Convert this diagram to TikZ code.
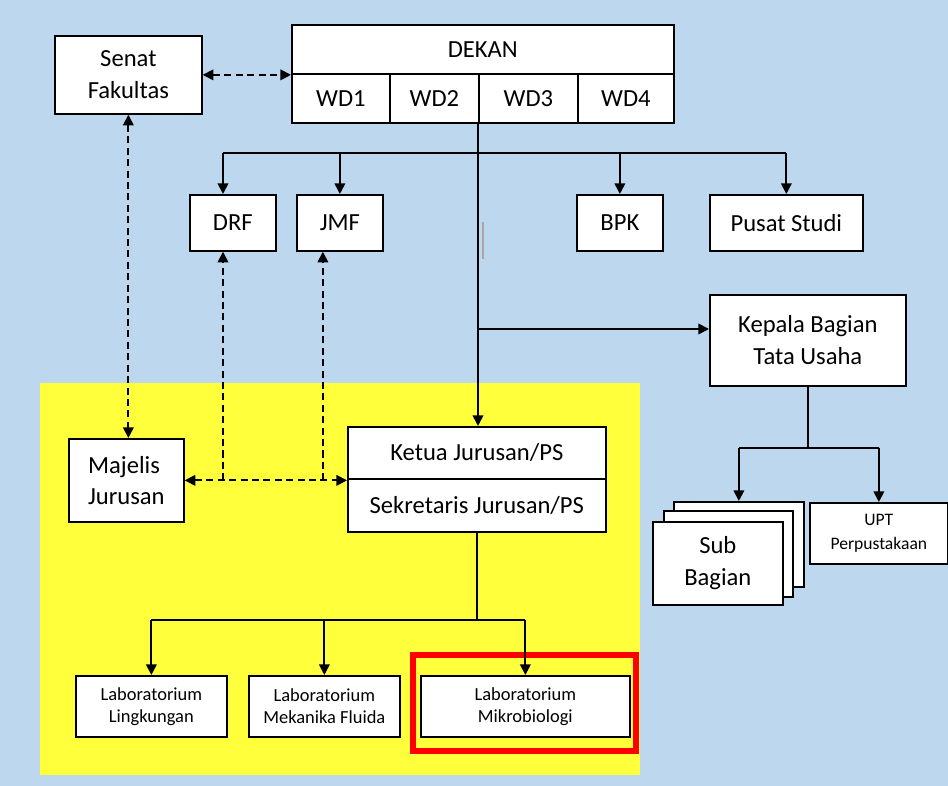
\documentclass[tikz,border=0pt]{standalone}
\usepackage{fontspec}
\setmainfont{Carlito}
\usepackage{xcolor}
\usetikzlibrary{positioning,calc,arrows.meta}

\definecolor{bgblue}{HTML}{BDD7EE}
\definecolor{labyellow}{HTML}{FFFF3C}

\begin{document}
\begin{tikzpicture}[x=0.02cm, y=-0.02cm, line width=1pt,
    >={Triangle[length=6pt,width=6pt]},
    org box/.style={draw, fill=white, anchor=north west, align=center, inner sep=2pt, font=\fontsize{14}{18}\selectfont},
    lab box/.style={org box, font=\fontsize{10.5}{12.5}\selectfont},
    dash line/.style={dash pattern=on 4pt off 2.5pt}]
    % Background and department area
    \fill[bgblue] (0,0) rectangle (948,786);
    \useasboundingbox (0,0) rectangle (948,786);
    \fill[labyellow] (40,383) rectangle (640,775);

    % Faculty level
    \node[org box, minimum width=2.94cm, minimum height=1.56cm] (senat) at (54,35) {Senat\\Fakultas};
    \node[org box, minimum width=7.64cm, minimum height=0.98cm] (dekan) at (291,24) {DEKAN};
    \foreach \i/\x/\w in {1/291/1.96, 2/389/1.78, 3/478/1.98, 4/577/1.92}
        \node[org box, minimum width=\w cm, minimum height=0.98cm] (wd\i) at (\x,73) {WD\i};

    \node[org box, minimum width=1.72cm, minimum height=1.12cm] (drf) at (189,194) {DRF};
    \node[org box, minimum width=1.72cm, minimum height=1.12cm] (jmf) at (296,194) {JMF};
    \node[org box, minimum width=1.72cm, minimum height=1.12cm] (bpk) at (576,194) {BPK};
    \node[org box, minimum width=3.06cm, minimum height=1.12cm] (pusat) at (709,194) {Pusat Studi};

    % Administration
    \node[org box, minimum width=3.92cm, minimum height=1.82cm] (kabag) at (709,294) {Kepala Bagian\\Tata Usaha};
    \node[org box, minimum width=2.6cm, minimum height=1.7cm] (subC) at (673,501) {};
    \node[org box, minimum width=2.58cm, minimum height=1.72cm] (subB) at (663,510) {};
    \node[org box, minimum width=2.6cm, minimum height=1.66cm] (subA) at (652,521) {Sub\\Bagian};
    \node[org box, minimum width=2.76cm, minimum height=1.22cm, font=\fontsize{10}{13.5}\selectfont] (upt) at (809,502) {UPT\\Perpustakaan};

    % Department (yellow area)
    \node[org box, align=left, minimum width=2.3cm, minimum height=1.66cm] (majelis) at (68,438) {Majelis\\Jurusan};
    \node[org box, minimum width=5.16cm, minimum height=1.04cm] (ketua) at (347,426) {Ketua Jurusan/PS};
    \node[org box, minimum width=5.16cm, minimum height=1.06cm] (sekretaris) at (347,478) {Sekretaris Jurusan/PS};

    \node[lab box, minimum width=3.02cm, minimum height=1.22cm] (lab1) at (75,675) {Laboratorium\\Lingkungan};
    \node[lab box, minimum width=3.02cm, minimum height=1.22cm] (lab2) at (248,675) {Laboratorium\\Mekanika Fluida};
    \node[lab box, minimum width=4.18cm, minimum height=1.22cm] (lab3) at (420,675) {Laboratorium\\Mikrobiologi};
    \draw[red, line width=3.4pt] (413,655) rectangle (636,751);

    % Lines of command
    \draw[->] (wd3.south west) -- (wd3.south west |- ketua.north);
    \coordinate (bus) at (223,153);
    \draw (bus) -- (bus -| pusat.north);
    \draw[->] (bus) -- (bus |- drf.north);
    \foreach \n in {jmf,bpk,pusat}
        \draw[->] (bus -| \n.north) -- (\n.north);

    \coordinate (tu) at (wd3.south west |- 0,329);
    \draw[->] (tu) -- (tu -| kabag.west);
    \draw (kabag.south) -- ++(0,61) coordinate (tubus);
    \draw (tubus -| subC.north) -- (tubus -| upt.north);
    \draw[->] (tubus -| subC.north) -- (subC.north);
    \draw[->] (tubus -| upt.north) -- (upt.north);

    \draw (sekretaris.south) -- ++(0,87) coordinate (labbus);
    \draw (labbus -| lab1.north) -- (labbus -| lab3.north);
    \foreach \n in {lab1,lab2,lab3}
        \draw[->] (labbus -| \n.north) -- (\n.north);

    % Lines of coordination (dashed)
    \draw[dash line, <->] (senat.east) -- (senat.east -| dekan.west);
    \draw[dash line, <->] (senat.south) -- (senat.south |- majelis.north);
    \draw[dash line, <->] (majelis.east) -- (majelis.east -| ketua.west);
    \draw[dash line, ->] (bus |- majelis.east) -- (bus |- drf.south);
    \coordinate (jmfd) at ([xshift=-0.34cm]jmf.south);
    \draw[dash line, ->] (jmfd |- majelis.east) -- (jmfd);

    % cursor mark
    \draw[gray!70, line width=1pt] (483,222) -- (483,259);
\end{tikzpicture}
\end{document}
